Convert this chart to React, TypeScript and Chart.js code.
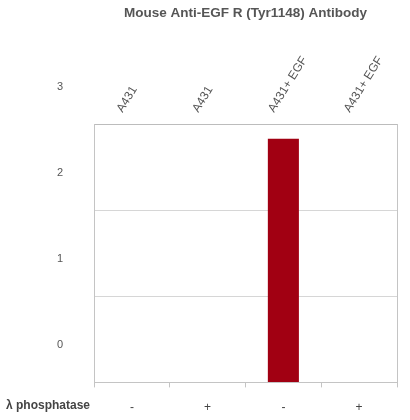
import React, { useEffect, useRef } from "react";
import { Chart, registerables } from "chart.js";

Chart.register(...registerables);

const chartTitle = "Mouse Anti-EGF R (Tyr1148) Antibody";
const cellLines = ["A431", "A431", "A431+ EGF", "A431+ EGF"];
const phosphatase = ["-", "+", "-", "+"];
const signal = [0, 0, 2.83, 0];
const rowLabel = "λ phosphatase";
const yMin = 0;
const yMax = 3;

const FONT = "'Liberation Sans', Arial, Helvetica, sans-serif";

export default function App() {
  const ref = useRef<HTMLCanvasElement>(null);

  useEffect(() => {
    document.body.style.margin = "0";
    const canvas = ref.current;
    if (!canvas) return;

    const rowLabelPlugin = {
      id: "rowLabel",
      afterDraw(chart: any) {
        const c = chart.ctx;
        const xs = chart.scales.x;
        c.save();
        c.font = `bold 12px ${FONT}`;
        c.fillStyle = "#444";
        c.textAlign = "left";
        c.textBaseline = "middle";
        c.fillText(rowLabel, 6, xs.top + 23);
        c.restore();
      },
    };

    const chart = new Chart(canvas, {
      type: "bar",
      data: {
        labels: phosphatase,
        datasets: [
          {
            data: signal,
            backgroundColor: "#a10012",
            categoryPercentage: 1,
            barPercentage: 0.41,
          },
        ],
      },
      options: {
        animation: false,
        responsive: false,
        layout: { padding: 0 },
        plugins: {
          legend: { display: false },
          tooltip: { enabled: false },
          title: {
            display: true,
            text: chartTitle,
            fullSize: false,
            color: "#555",
            font: { size: 13.5, weight: "bold", family: FONT },
            padding: { top: 5, bottom: 0 },
          },
        },
        scales: {
          x: {
            position: "bottom",
            offset: true,
            grid: {
              offset: true,
              drawOnChartArea: false,
              drawTicks: true,
              tickLength: 5,
              color: "#c4c4c4",
            },
            border: { display: true, color: "#c4c4c4" },
            ticks: {
              color: "#444",
              font: { size: 12, family: FONT },
              padding: 13,
              maxRotation: 0,
              minRotation: 0,
            },
            afterFit(s: any) {
              s.height = 35;
            },
          },
          xTop: {
            type: "category",
            position: "top",
            labels: cellLines,
            offset: true,
            grid: { display: false, drawTicks: false },
            border: { display: true, color: "#bcbcbc" },
            ticks: {
              color: "#555",
              font: { size: 12, family: FONT },
              minRotation: 58,
              maxRotation: 58,
              autoSkip: false,
              padding: 9,
              labelOffset: 0,
            },
            afterFit(s: any) {
              s.height = 124 - (13.5 * 1.2 + 5);
            },
          },
          y: {
            position: "left",
            min: yMin,
            max: yMax,
            grid: { color: "#d6d6d6", drawTicks: false },
            border: { display: true, color: "#c4c4c4" },
            ticks: {
              stepSize: 1,
              color: "#555",
              font: { size: 11, family: FONT },
              padding: 31,
              labelOffset: -37,
            },
            afterFit(s: any) {
              s.width = 94;
            },
          },
          yRight: {
            position: "right",
            min: yMin,
            max: yMax,
            grid: { display: false, drawTicks: false },
            border: { display: true, color: "#c4c4c4" },
            ticks: { display: false },
            afterFit(s: any) {
              s.width = 13;
            },
          },
        },
      },
      plugins: [rowLabelPlugin],
    } as any);

    return () => chart.destroy();
  }, []);

  return (
    <div style={{ width: 410, height: 420 }}>
      <canvas ref={ref} width={410} height={420} />
    </div>
  );
}
